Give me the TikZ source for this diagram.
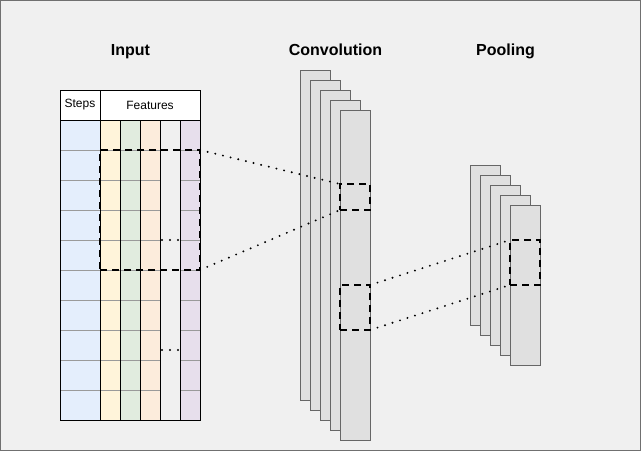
\documentclass[tikz,border=0pt]{standalone}
\usepackage{fontspec}
\setmainfont{Liberation Sans}
\definecolor{bg}{HTML}{F0F0F0}
\definecolor{frame}{HTML}{707070}
\definecolor{layerfill}{HTML}{E0E0E0}
\definecolor{layerdraw}{HTML}{666666}
\definecolor{rowline}{HTML}{9A9A9A}
\definecolor{cblue}{HTML}{E4EEFC}
\definecolor{cyellow}{HTML}{FFF4DA}
\definecolor{cgreen}{HTML}{E1ECDF}
\definecolor{corange}{HTML}{FCECDC}
\definecolor{cgray}{HTML}{F0F0F0}
\definecolor{cpurple}{HTML}{E7DFEC}
\begin{document}
\begin{tikzpicture}[x=0.75pt,y=-0.75pt,
  box/.style={inner sep=0pt, outer sep=0pt, anchor=north west},
  layer/.style={box, draw=layerdraw, fill=layerfill, line width=0.75pt, minimum width=22.5pt},
  dbox/.style={box, draw=black, line width=1.5pt, dash pattern=on 5.25pt off 3.75pt, minimum width=22.5pt},
  dots/.style={draw=black, line width=1.6pt, line cap=round, dash pattern=on 0pt off 5.9pt},
  title/.style={anchor=base, inner sep=0pt, font=\bfseries\fontsize{12}{14}\selectfont},
  hdr/.style={box, draw=black, fill=white, line width=0.75pt, minimum height=22.5pt, font=\fontsize{9}{11}\selectfont},
  col/.style={box, draw=black, line width=0.75pt, minimum height=225pt},
  rowln/.style={draw=rowline, line width=0.75pt}
]
\useasboundingbox (0,0) rectangle (641,451);
\fill[bg] (0,0) rectangle (641,451);
\draw[frame, line width=0.75pt] (0.5,0.5) rectangle (640.5,450.5);

% titles
\node[title] (tin) at (130.5,55.7) {Input};
\node[title] (tconv) at (335.5,55.7) {Convolution};
\node[title] (tpool) at (505.5,55.7) {Pooling};

% table header
\node[hdr, minimum width=30pt] (steps) at (60,90) {Steps};
\node[hdr, minimum width=75pt] (feat) at (100,90) {Features};

% table columns (fills)
\fill[cblue] (60,120) rectangle (100,420);
\fill[cyellow] (100,120) rectangle (120,420);
\fill[cgreen] (120,120) rectangle (140,420);
\fill[corange] (140,120) rectangle (160,420);
\fill[cgray] (160,120) rectangle (180,420);
\fill[cpurple] (180,120) rectangle (200,420);
% row lines
\foreach \y in {150,180,...,390} {
  \draw[rowln] (60,\y) -- (160,\y);
  \draw[rowln] (180,\y) -- (200,\y);
}
% column outlines
\node[col, minimum width=30pt] (csteps) at (60,120) {};
\node[col, minimum width=15pt] (cf1) at (100,120) {};
\node[col, minimum width=15pt] (cf2) at (120,120) {};
\node[col, minimum width=15pt] (cf3) at (140,120) {};
\node[col, minimum width=15pt] (cf4) at (160,120) {};
\node[col, minimum width=15pt] (cf5) at (180,120) {};
% ellipsis dots in the fifth column
\coordinate (e1a) at (162,240);
\coordinate (e1b) at (180,240);
\coordinate (e2a) at (162,350);
\coordinate (e2b) at (180,350);
\draw[dots, dash pattern=on 0pt off 6pt] (e1a) -- (e1b);
\draw[dots, dash pattern=on 0pt off 6pt] (e2a) -- (e2b);

% convolution layers
\foreach \i in {0,...,4} {
  \node[layer, minimum height=247.5pt] (c\i) at (300+10*\i,70+10*\i) {};
}
% pooling layers
\foreach \i in {0,...,4} {
  \node[layer, minimum height=120pt] (p\i) at (470+10*\i,165+10*\i) {};
}

% dashed windows
\node[dbox, minimum width=75pt, minimum height=90pt] (win) at (100,150) {};
\node[dbox, minimum height=19.5pt] (wc1) at (340,184) {};
\node[dbox, minimum height=33.75pt] (wc2) at (340,285) {};
\node[dbox, minimum height=33.75pt] (wp) at (510,240) {};

% dotted connectors
\draw[dots] (win.north east) -- (wc1.north west);
\draw[dots] (win.south east) -- (wc1.south west);
\draw[dots] (wc2.north east) -- (wp.north west);
\draw[dots] (wc2.south east) -- (wp.south west);
\end{tikzpicture}
\end{document}
